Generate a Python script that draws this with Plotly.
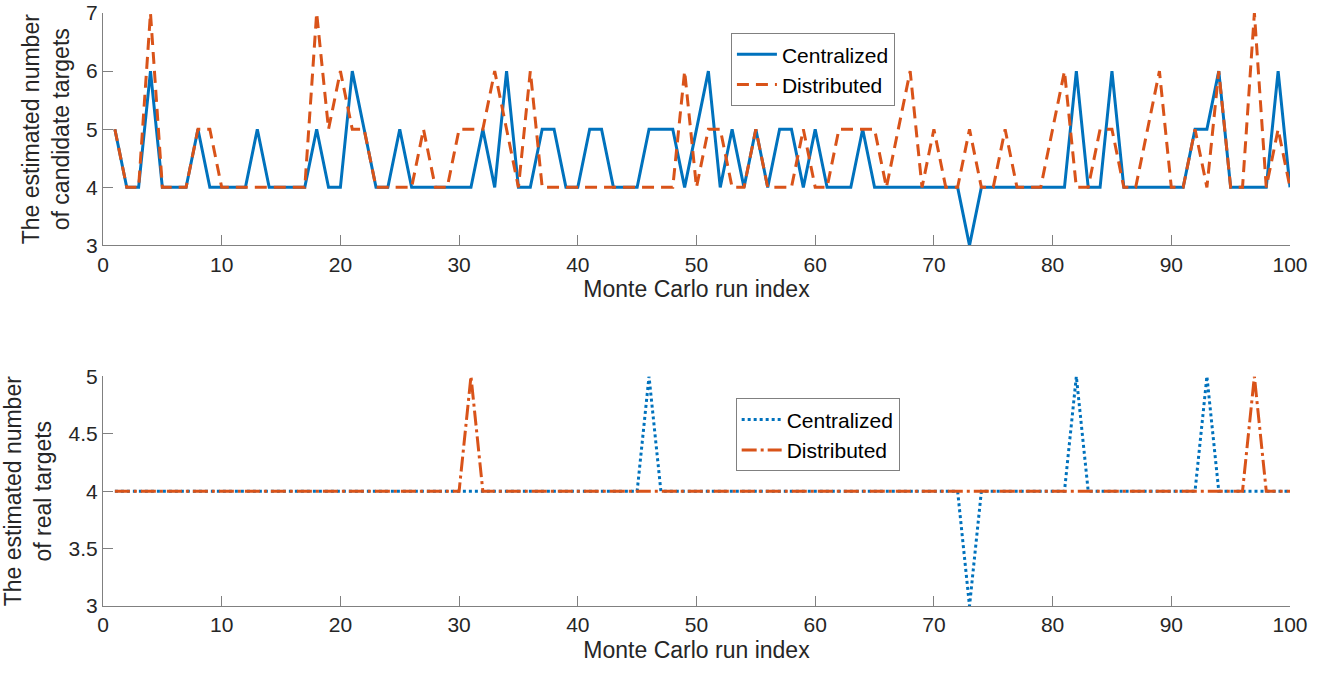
import plotly.graph_objects as go
from plotly.subplots import make_subplots

run_index = list(range(1, 101))

cand_centralized = [
    5, 4, 4, 6, 4, 4, 4, 5, 4, 4,
    4, 4, 5, 4, 4, 4, 4, 5, 4, 4,
    6, 5, 4, 4, 5, 4, 4, 4, 4, 4,
    4, 5, 4, 6, 4, 4, 5, 5, 4, 4,
    5, 5, 4, 4, 4, 5, 5, 5, 4, 5,
    6, 4, 5, 4, 5, 4, 5, 5, 4, 5,
    4, 4, 4, 5, 4, 4, 4, 4, 4, 4,
    4, 4, 3, 4, 4, 4, 4, 4, 4, 4,
    4, 6, 4, 4, 6, 4, 4, 4, 4, 4,
    4, 5, 5, 6, 4, 4, 4, 4, 6, 4,
]
cand_distributed = [
    5, 4, 4, 7, 4, 4, 4, 5, 5, 4,
    4, 4, 4, 4, 4, 4, 4, 7, 5, 6,
    5, 5, 4, 4, 4, 4, 5, 4, 4, 5,
    5, 5, 6, 5, 4, 6, 4, 4, 4, 4,
    4, 4, 4, 4, 4, 4, 4, 4, 6, 4,
    5, 5, 4, 4, 5, 4, 4, 4, 5, 4,
    4, 5, 5, 5, 5, 4, 5, 6, 4, 5,
    4, 4, 5, 4, 4, 5, 4, 4, 4, 5,
    6, 4, 4, 5, 5, 4, 4, 5, 6, 4,
    4, 5, 4, 6, 4, 4, 7, 4, 5, 4,
]
real_centralized = [
    4, 4, 4, 4, 4, 4, 4, 4, 4, 4,
    4, 4, 4, 4, 4, 4, 4, 4, 4, 4,
    4, 4, 4, 4, 4, 4, 4, 4, 4, 4,
    4, 4, 4, 4, 4, 4, 4, 4, 4, 4,
    4, 4, 4, 4, 4, 5, 4, 4, 4, 4,
    4, 4, 4, 4, 4, 4, 4, 4, 4, 4,
    4, 4, 4, 4, 4, 4, 4, 4, 4, 4,
    4, 4, 3, 4, 4, 4, 4, 4, 4, 4,
    4, 5, 4, 4, 4, 4, 4, 4, 4, 4,
    4, 4, 5, 4, 4, 4, 4, 4, 4, 4,
]
real_distributed = [
    4, 4, 4, 4, 4, 4, 4, 4, 4, 4,
    4, 4, 4, 4, 4, 4, 4, 4, 4, 4,
    4, 4, 4, 4, 4, 4, 4, 4, 4, 4,
    5, 4, 4, 4, 4, 4, 4, 4, 4, 4,
    4, 4, 4, 4, 4, 4, 4, 4, 4, 4,
    4, 4, 4, 4, 4, 4, 4, 4, 4, 4,
    4, 4, 4, 4, 4, 4, 4, 4, 4, 4,
    4, 4, 4, 4, 4, 4, 4, 4, 4, 4,
    4, 4, 4, 4, 4, 4, 4, 4, 4, 4,
    4, 4, 4, 4, 4, 4, 5, 4, 4, 4,
]

x_ticks = [0, 10, 20, 30, 40, 50, 60, 70, 80, 90, 100]
top_y_ticks = [3, 4, 5, 6, 7]
bot_y_ticks = [3, 3.5, 4, 4.5, 5]

BLUE = "#0072BD"
ORANGE = "#D95319"
AXIS = "#808080"
TEXT = "#262626"
FONT = "Liberation Sans, Arial, sans-serif"

fig = make_subplots(rows=2, cols=1)

fig.add_trace(go.Scatter(x=run_index, y=cand_centralized, mode="lines", name="Centralized",
                         line=dict(color=BLUE, width=3), legend="legend"), row=1, col=1)
fig.add_trace(go.Scatter(x=run_index, y=cand_distributed, mode="lines", name="Distributed",
                         line=dict(color=ORANGE, width=3, dash="12px,7px"), legend="legend"), row=1, col=1)
fig.add_trace(go.Scatter(x=run_index, y=real_centralized, mode="lines", name="Centralized",
                         line=dict(color=BLUE, width=3, dash="3px,3px"), legend="legend2"), row=2, col=1)
fig.add_trace(go.Scatter(x=run_index, y=real_distributed, mode="lines", name="Distributed",
                         line=dict(color=ORANGE, width=3, dash="15px,4px,3px,4px"), legend="legend2"), row=2, col=1)

axis_common = dict(
    showline=True, linecolor=AXIS, linewidth=1,
    ticks="inside", ticklen=10, tickcolor=AXIS, tickwidth=1,
    showgrid=False, zeroline=False, mirror=False, automargin=False,
    ticklabeloverflow="allow",
    tickfont=dict(family=FONT, size=21, color=TEXT),
)

fig.update_xaxes(**axis_common, range=[0, 100], tickvals=x_ticks,
                 title=dict(text="Monte Carlo run index", font=dict(family=FONT, size=23, color=TEXT), standoff=6))
fig.update_yaxes(**axis_common)

fig.update_yaxes(range=[3, 7], tickvals=top_y_ticks, domain=[0.608, 1.0],
                 title=dict(text="The estimated number<br>of candidate targets",
                            font=dict(family=FONT, size=23, color=TEXT), standoff=10), row=1, col=1)
fig.update_yaxes(range=[3, 5], tickvals=bot_y_ticks, domain=[0.0, 0.3872],
                 title=dict(text="The estimated number<br>of real targets",
                            font=dict(family=FONT, size=23, color=TEXT), standoff=10), row=2, col=1)

legend_common = dict(
    bgcolor="white", bordercolor=AXIS, borderwidth=1,
    font=dict(family=FONT, size=21, color="black"),
    xanchor="left", yanchor="top", tracegroupgap=0, itemwidth=40,
)

fig.update_layout(
    width=1322, height=681,
    margin=dict(l=103, r=32, t=13, b=75),
    paper_bgcolor="white", plot_bgcolor="white",
    showlegend=True,
    legend=dict(**legend_common, x=0.529, y=0.966),
    legend2=dict(**legend_common, x=0.533, y=0.350),
    font=dict(family=FONT, color=TEXT),
)

fig.write_html("out.html")
